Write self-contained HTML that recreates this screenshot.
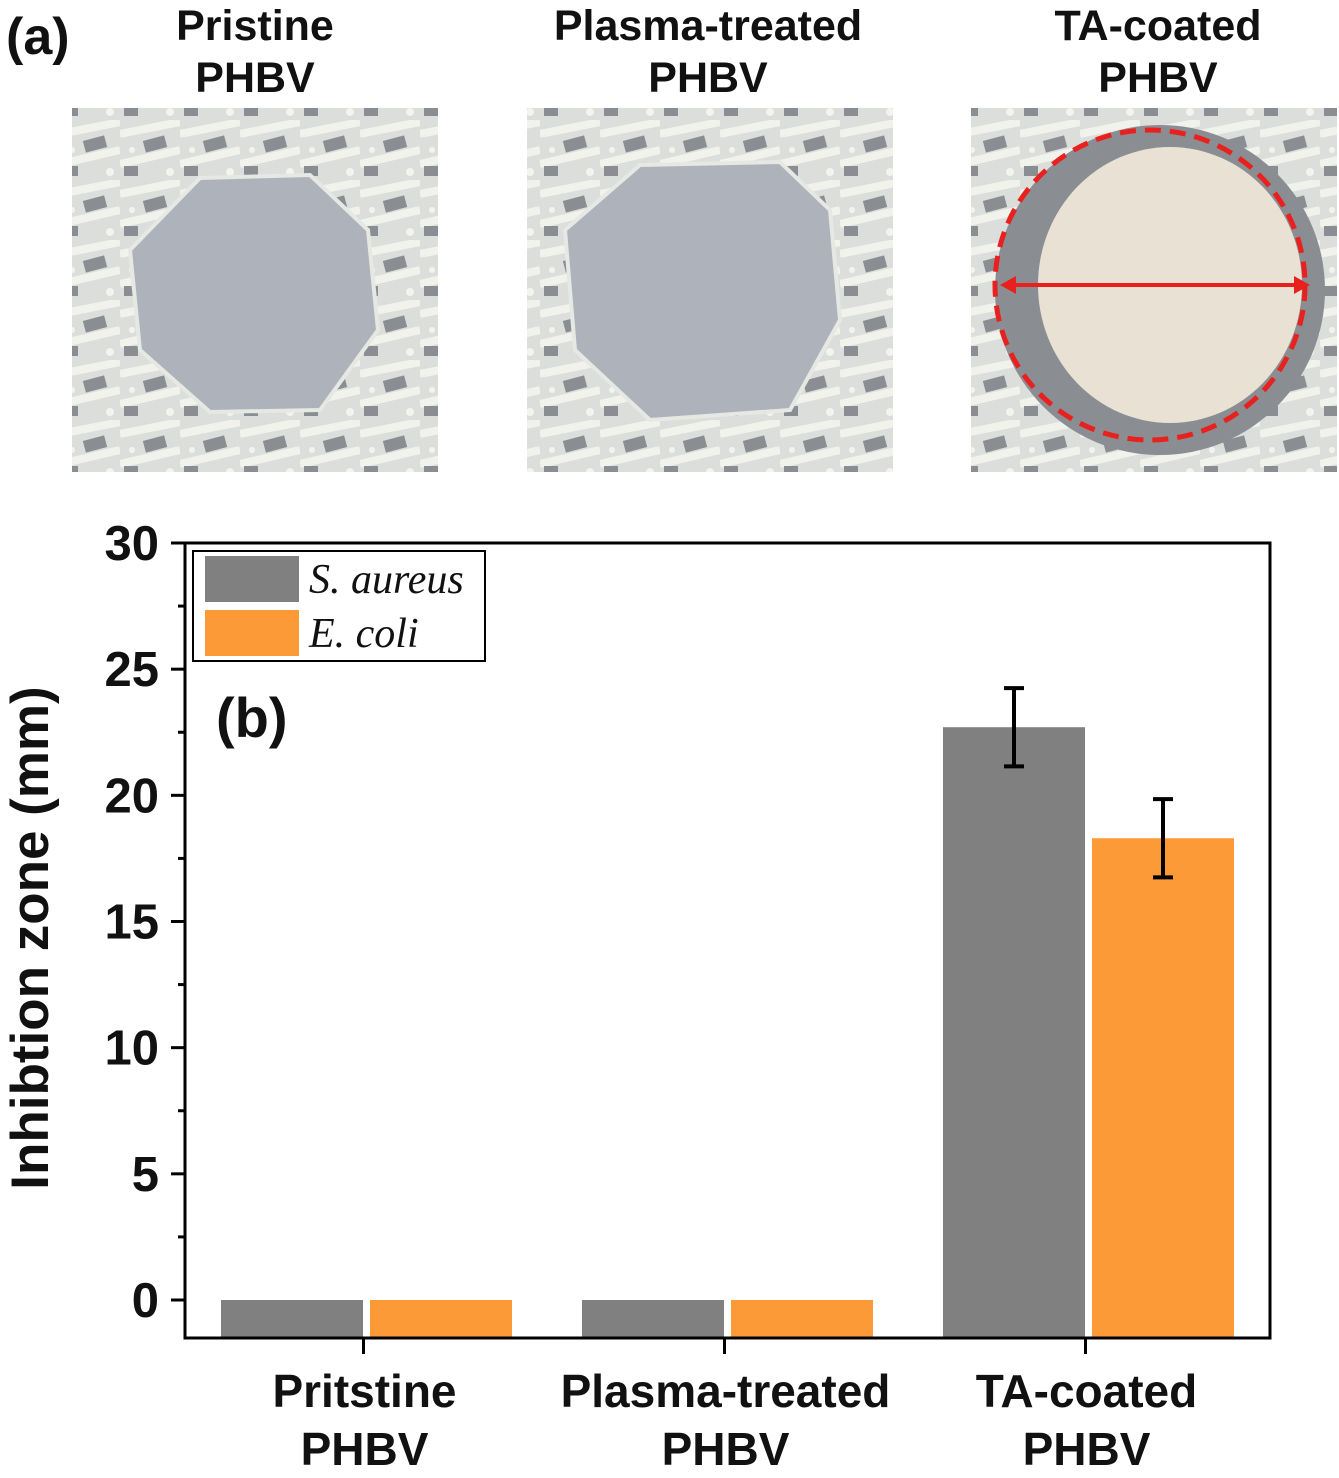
<!DOCTYPE html>
<html><head><meta charset="utf-8">
<style>
html,body{margin:0;padding:0;background:#fff;}
body{width:1339px;height:1473px;overflow:hidden;font-family:"Liberation Sans",Arial,sans-serif;}
</style></head>
<body>
<svg id="fig" width="1339" height="1473" viewBox="0 0 1339 1473" xmlns="http://www.w3.org/2000/svg">
<defs>
<pattern id="tex" width="60" height="60" patternUnits="userSpaceOnUse">
<rect width="60" height="60" fill="#dcdedb"/>
<path d="M0 14 L60 2 M0 44 L60 30" stroke="#f2f2ec" stroke-width="8"/>
<rect x="24" y="18" width="22" height="12" fill="#8a8e93" transform="rotate(-15 35 24)"/>
<rect x="4" y="46" width="14" height="10" fill="#8a8e93"/>
<circle cx="50" cy="52" r="4" fill="#f4f4ee"/><circle cx="12" cy="30" r="3" fill="#f4f4ee"/>
</pattern>
</defs>
<g font-weight="bold" font-size="43" text-anchor="middle" fill="#111">
<text x="6" y="54" font-size="52" text-anchor="start">(a)</text>
<text x="255" y="40">Pristine</text>
<text x="255" y="92">PHBV</text>
<text x="708" y="40">Plasma-treated</text>
<text x="708" y="92">PHBV</text>
<text x="1158" y="40">TA-coated</text>
<text x="1158" y="92">PHBV</text>
</g>
<g>
<rect x="72" y="108" width="366" height="364" fill="url(#tex)"/>
<polygon points="200,178 310,175 368,230 378,330 320,410 210,412 140,350 130,250" fill="#aeb3bb" stroke="#e6e8e4" stroke-width="4"/>
</g>
<g>
<rect x="527" y="108" width="366" height="364" fill="url(#tex)"/>
<polygon points="640,165 780,162 830,210 840,320 790,410 650,420 575,350 565,230" fill="#aeb3bb" stroke="#e6e8e4" stroke-width="4"/>
</g>
<g>
<rect x="971" y="108" width="366" height="364" fill="url(#tex)"/>
<circle cx="1160" cy="290" r="165" fill="#8a8e92"/>
<ellipse cx="1170" cy="285" rx="132" ry="138" fill="#e9e2d4"/>
<circle cx="1150" cy="285" r="155" fill="none" stroke="#e8201e" stroke-width="5" stroke-dasharray="16 9"/>
<line x1="1010" y1="285" x2="1300" y2="285" stroke="#e8201e" stroke-width="4"/>
<polygon points="1000,285 1016,276 1016,294" fill="#e8201e"/>
<polygon points="1310,285 1294,276 1294,294" fill="#e8201e"/>
</g>
<g id="chart"></g>
</svg>
<script>
const categories = ["Pritstine|PHBV", "Plasma-treated|PHBV", "TA-coated|PHBV"];
const saureus = [0, 0, 22.7];
const ecoli = [0, 0, 18.3];
const saureusErr = [0, 0, 1.55];
const ecoliErr = [0, 0, 1.55];
const yTicks = [0, 5, 10, 15, 20, 25, 30];
const yMin = -1.5, yMax = 30;

const NS = "http://www.w3.org/2000/svg";
const g = document.getElementById("chart");
const L = 185, R = 1270, T = 543, B = 1338;
function y(v){ return 1300 - v * (1300 - T) / 30; }
function xc(i){ return 366.5 + i * 361; }
function mk(tag, attrs, parent){
  const e = document.createElementNS(NS, tag);
  for (const k in attrs) e.setAttribute(k, attrs[k]);
  (parent || g).appendChild(e); return e;
}
const bw = 142;
const series = [[saureus, saureusErr, "#808080", -bw - 3.5, "bar-s-aureus"], [ecoli, ecoliErr, "#fd9a38", 3.5, "bar-e-coli"]];
series.forEach(s => {
  s[0].forEach((v, i) => {
    const x = xc(i) + s[3];
    const r = mk("rect", {x: x, y: y(v), width: bw, height: y(yMin) - y(v), fill: s[2]});
    
    
    const e = s[1][i];
    if (e > 0) {
      const cx = x + bw / 2;
      const eg = mk("g", {stroke: "#000", "stroke-width": 4});
      
      
      mk("line", {x1: cx, x2: cx, y1: y(v + e), y2: y(v - e)}, eg);
      mk("line", {x1: cx - 10, x2: cx + 10, y1: y(v + e), y2: y(v + e)}, eg);
      mk("line", {x1: cx - 10, x2: cx + 10, y1: y(v - e), y2: y(v - e)}, eg);
    }
  });
});
const fr = mk("rect", {x: L, y: T, width: R - L, height: B - T, fill: "none", stroke: "#000", "stroke-width": 3});


yTicks.forEach(t => {
  mk("line", {x1: 171, x2: L, y1: y(t), y2: y(t), stroke: "#000", "stroke-width": 3});
  const tx = mk("text", {x: 159, y: y(t) + 17, "text-anchor": "end", "font-size": 49, "font-weight": "bold", fill: "#111"});
  tx.textContent = t;
  
  
  if (t < 30) mk("line", {x1: 178, x2: L, y1: y(t + 2.5), y2: y(t + 2.5), stroke: "#000", "stroke-width": 3});
});
categories.forEach((c, i) => {
  mk("line", {x1: xc(i) - 3, x2: xc(i) - 3, y1: B, y2: B + 16, stroke: "#000", "stroke-width": 3});
  const parts = c.split("|");
  parts.forEach((p, j) => {
    const tx = mk("text", {x: xc(i) - 2, y: 1407 + j * 58, "text-anchor": "middle", "font-size": 46, "font-weight": "bold", fill: "#111"});
    tx.textContent = p;
    
    
  });
});
const yt = mk("text", {x: 0, y: 0, transform: "translate(48,938) rotate(-90)", "text-anchor": "middle", "font-size": 53, "font-weight": "bold", fill: "#111"});
yt.textContent = "Inhibtion zone (mm)";


const bl = mk("text", {x: 216, y: 737, "font-size": 56, "font-weight": "bold", fill: "#111"});
bl.textContent = "(b)";


const lg = mk("g", {});


mk("rect", {x: 193, y: 551, width: 292, height: 110, fill: "#fff", stroke: "#000", "stroke-width": 2}, lg);
[["#808080", "S. aureus", 556], ["#fd9a38", "E. coli", 610]].forEach(l => {
  const e = mk("g", {}, lg);
  
  
  mk("rect", {x: 205, y: l[2], width: 94, height: 46, fill: l[0]}, e);
  const t = mk("text", {x: 309, y: l[2] + 37, "font-size": 42, "font-style": "italic", "font-family": "Liberation Serif, serif", fill: "#111"}, e);
  t.textContent = l[1];
});
</script>
</body></html>
